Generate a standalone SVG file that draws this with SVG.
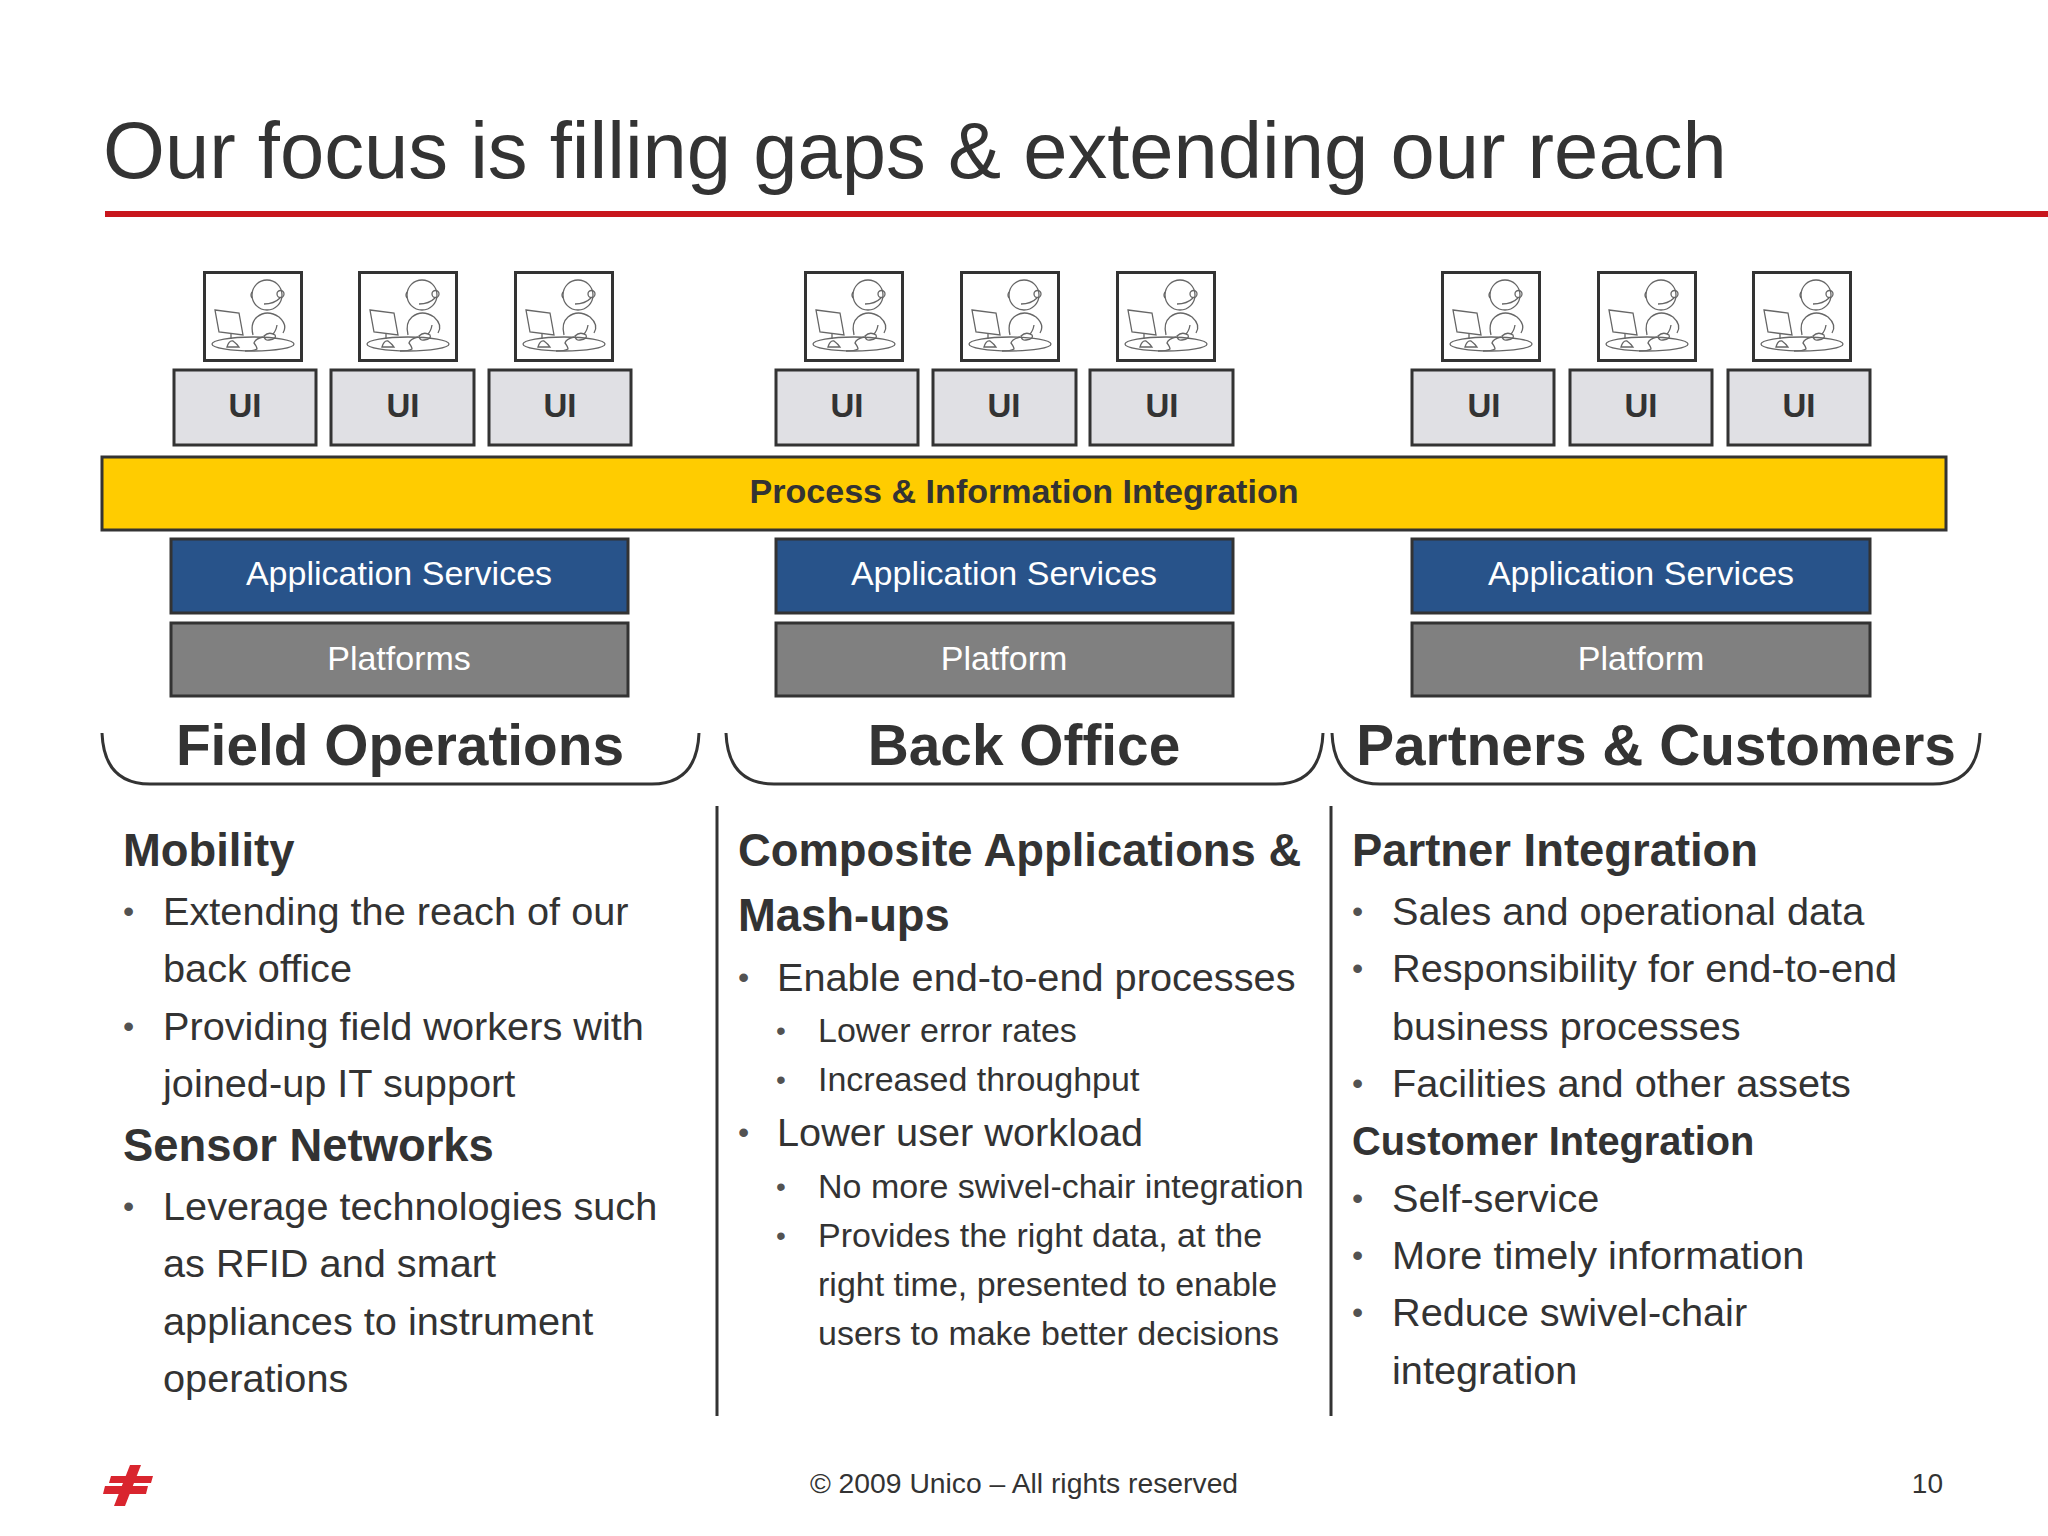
<svg xmlns="http://www.w3.org/2000/svg" width="2048" height="1536" viewBox="0 0 2048 1536">
<style>
text{font-family:"Liberation Sans",Arial,sans-serif;fill:#333}
.ui{fill:#e0e0e4;stroke:#333;stroke-width:3}
.uit{font-size:33px;font-weight:700;text-anchor:middle}
.as{fill:#28538a;stroke:#333;stroke-width:3}
.pf{fill:#808080;stroke:#333;stroke-width:3}
.w{fill:#fff;font-size:34px;text-anchor:middle}
.h{font-size:56.8px;font-weight:700;text-anchor:middle}
.b1{font-size:45.4px;font-weight:700}
.b2{font-size:39.8px;font-weight:700}
.t{font-size:39.7px}
.s{font-size:34px}
.d{font-size:32px;fill-opacity:.85}
.e{font-size:28px;fill-opacity:.85}
.ln{fill:none;stroke:#333;stroke-width:3}
.ic{fill:none;stroke:#666;stroke-width:1.3}
</style>
<defs>
<symbol id="person" viewBox="0 0 100 91" width="100" height="91">
<rect x="1.5" y="1.5" width="97" height="88" fill="#fff" stroke="#333" stroke-width="3"/>
<circle class="ic" cx="64" cy="24" r="15"/>
<circle class="ic" cx="77.5" cy="23" r="3.5"/>
<path class="ic" d="M49 21q-2 3 0 6M77 27q-6 6-16 6"/>
<path class="ic" d="M50 64Q47 52 54 46Q64 38 76 46Q85 54 80 62M74 54q-1 6-4 9"/>
<path class="ic" d="M12 39L36 42L40 64L16 61Z"/>
<path class="ic" d="M28 63v5M24 76q2-7 6-6q4 3 6 6z"/>
<ellipse class="ic" cx="50" cy="73" rx="41" ry="7"/>
<path class="ic" d="M61 65q5-5 11-1q2 4-6 5q-4 1-5-4zM60 66q-8 2-9 6q3 4 3 6q-3 2-12 2"/>
</symbol>
</defs>
<rect width="2048" height="1536" fill="#fff"/>
<text id="title" x="103" y="178" font-size="79.6">Our focus is filling gaps &amp; extending our reach</text>
<rect id="rule" x="105" y="211" width="1943" height="6" fill="#c8161d"/>

<g id="people">
<use href="#person" x="203" y="271"/><use href="#person" x="358" y="271"/><use href="#person" x="514" y="271"/>
<use href="#person" x="804" y="271"/><use href="#person" x="960" y="271"/><use href="#person" x="1116" y="271"/>
<use href="#person" x="1441" y="271"/><use href="#person" x="1597" y="271"/><use href="#person" x="1752" y="271"/>
</g>
<g id="ui-1"><rect class="ui" x="174" y="370" width="142" height="75"/><text class="uit" x="245" y="417">UI</text></g>
<g id="ui-2"><rect class="ui" x="331" y="370" width="143" height="75"/><text class="uit" x="403" y="417">UI</text></g>
<g id="ui-3"><rect class="ui" x="489" y="370" width="142" height="75"/><text class="uit" x="560" y="417">UI</text></g>
<g id="ui-4"><rect class="ui" x="776" y="370" width="142" height="75"/><text class="uit" x="847" y="417">UI</text></g>
<g id="ui-5"><rect class="ui" x="933" y="370" width="143" height="75"/><text class="uit" x="1004" y="417">UI</text></g>
<g id="ui-6"><rect class="ui" x="1090" y="370" width="143" height="75"/><text class="uit" x="1162" y="417">UI</text></g>
<g id="ui-7"><rect class="ui" x="1412" y="370" width="142" height="75"/><text class="uit" x="1484" y="417">UI</text></g>
<g id="ui-8"><rect class="ui" x="1570" y="370" width="142" height="75"/><text class="uit" x="1641" y="417">UI</text></g>
<g id="ui-9"><rect class="ui" x="1728" y="370" width="142" height="75"/><text class="uit" x="1799" y="417">UI</text></g>

<g id="integration"><rect x="102" y="457" width="1844" height="73" fill="#ffcc00" stroke="#333" stroke-width="3"/><text x="1024" y="503" font-size="34.1" font-weight="700" text-anchor="middle">Process &amp; Information Integration</text></g>

<g id="app-1"><rect class="as" x="171" y="539" width="457" height="74"/><text class="w" x="399" y="585">Application Services</text></g>
<g id="app-2"><rect class="as" x="776" y="539" width="457" height="74"/><text class="w" x="1004" y="585">Application Services</text></g>
<g id="app-3"><rect class="as" x="1412" y="539" width="458" height="74"/><text class="w" x="1641" y="585">Application Services</text></g>
<g id="plat-1"><rect class="pf" x="171" y="623" width="457" height="73"/><text class="w" x="399" y="670">Platforms</text></g>
<g id="plat-2"><rect class="pf" x="776" y="623" width="457" height="73"/><text class="w" x="1004" y="670">Platform</text></g>
<g id="plat-3"><rect class="pf" x="1412" y="623" width="458" height="73"/><text class="w" x="1641" y="670">Platform</text></g>

<g id="field"><path class="ln" d="M102 733Q104 784 150 784H652Q697 784 699 733"/><text class="h" x="400" y="765">Field Operations</text></g>
<g id="back"><path class="ln" d="M726 733Q728 784 774 784H1276Q1321 784 1323 733"/><text class="h" x="1024" y="765">Back Office</text></g>
<g id="partners"><path class="ln" d="M1332 733Q1334 784 1380 784H1933Q1978 784 1980 733"/><text class="h" x="1656" y="765">Partners &amp; Customers</text></g>

<g id="dividers"><path class="ln" d="M717 806V1416M1331 806V1416"/></g>

<g id="col-1">
<text class="b1" x="123" y="866">Mobility</text>
<text class="d" x="123" y="922">•</text><text class="t" x="163" y="925">Extending the reach of our</text>
<text class="t" x="163" y="982">back office</text>
<text class="d" x="123" y="1037">•</text><text class="t" x="163" y="1040">Providing field workers with</text>
<text class="t" x="163" y="1097">joined-up IT support</text>
<text class="b1" x="123" y="1161">Sensor Networks</text>
<text class="d" x="123" y="1217">•</text><text class="t" x="163" y="1220">Leverage technologies such</text>
<text class="t" x="163" y="1277">as RFID and smart</text>
<text class="t" x="163" y="1335">appliances to instrument</text>
<text class="t" x="163" y="1392">operations</text>
</g>
<g id="col-2">
<text class="b1" x="738" y="866">Composite Applications &amp;</text>
<text class="b1" x="738" y="931">Mash-ups</text>
<text class="d" x="738" y="988">•</text><text class="t" x="777" y="991">Enable end-to-end processes</text>
<text class="e" x="776" y="1040">•</text><text class="s" x="818" y="1042">Lower error rates</text>
<text class="e" x="776" y="1089">•</text><text class="s" x="818" y="1091">Increased throughput</text>
<text class="d" x="738" y="1143">•</text><text class="t" x="777" y="1146">Lower user workload</text>
<text class="e" x="776" y="1196">•</text><text class="s" x="818" y="1198">No more swivel-chair integration</text>
<text class="e" x="776" y="1245">•</text><text class="s" x="818" y="1247">Provides the right data, at the</text>
<text class="s" x="818" y="1296">right time, presented to enable</text>
<text class="s" x="818" y="1345">users to make better decisions</text>
</g>
<g id="col-3">
<text class="b1" x="1352" y="866">Partner Integration</text>
<text class="d" x="1352" y="922">•</text><text class="t" x="1392" y="925">Sales and operational data</text>
<text class="d" x="1352" y="979">•</text><text class="t" x="1392" y="982">Responsibility for end-to-end</text>
<text class="t" x="1392" y="1040">business processes</text>
<text class="d" x="1352" y="1094">•</text><text class="t" x="1392" y="1097">Facilities and other assets</text>
<text class="b2" x="1352" y="1155">Customer Integration</text>
<text class="d" x="1352" y="1209">•</text><text class="t" x="1392" y="1212">Self-service</text>
<text class="d" x="1352" y="1266">•</text><text class="t" x="1392" y="1269">More timely information</text>
<text class="d" x="1352" y="1323">•</text><text class="t" x="1392" y="1326">Reduce swivel-chair</text>
<text class="t" x="1392" y="1384">integration</text>
</g>
<g id="logo" fill="#d9252e">
<path d="M111 1476H153L151 1483H109ZM105 1486H148L146 1494H103Z"/>
<path d="M130 1465H141L125 1506H114Z"/>
</g>
<text id="footer" x="1024" y="1493" font-size="28.3" text-anchor="middle">© 2009 Unico – All rights reserved</text>
<text id="page" x="1943" y="1493" font-size="28" text-anchor="end">10</text>
</svg>
